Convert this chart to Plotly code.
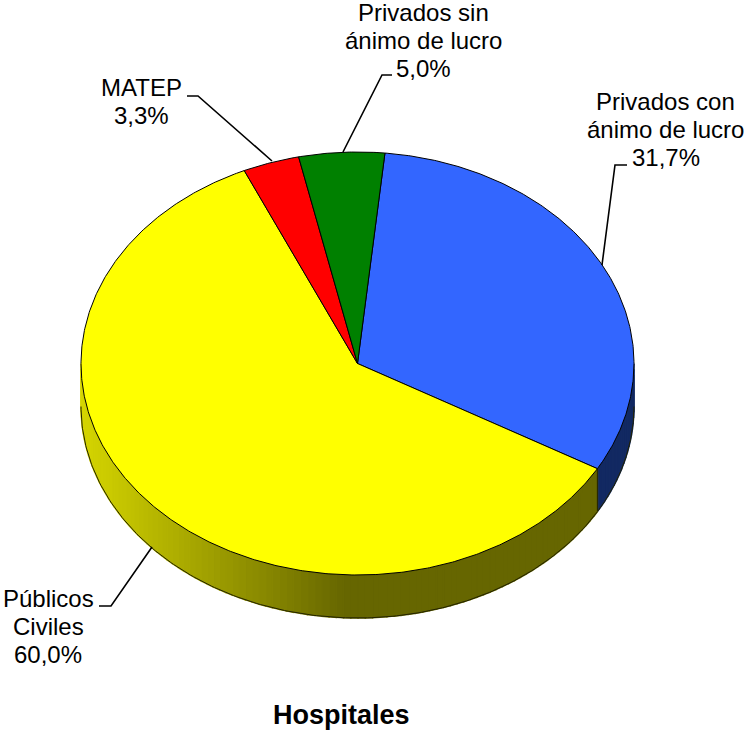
import numpy as np
import plotly.graph_objects as go

categories = ["Privados con ánimo de lucro", "Públicos Civiles", "MATEP", "Privados sin ánimo de lucro"]
values = [31.7, 60.0, 3.3, 5.0]
colors = ["#3366FF", "#FFFF00", "#FF0000", "#008000"]
side_colors = [(18, 41, 98), (255, 255, 0), (102, 0, 0), (0, 50, 0)]
label_lines = [["Privados con", "ánimo de lucro", "31,7%"],
               ["Públicos", "Civiles", "60,0%"],
               ["MATEP", "3,3%"],
               ["Privados sin", "ánimo de lucro", "5,0%"]]
label_x = [665.5, 48, 141, 423]
label_y = [101.5, 598, 87, 12]
leaders = [[(627, 165), (615, 165), (602, 265)],
           [(99, 606), (111, 606), (152, 547)],
           [(187, 96), (198, 96), (272, 161)],
           [(392, 75), (382, 75), (343, 152)]]
title_text = "Hospitales"

CX, CY, RX, RY, DEPTH = 357.5, 363.5, 276.5, 211.5, 43
START = 5.7
FONT = "Liberation Sans, Arial, sans-serif"


def rim(a, dy=0):
    r = np.radians(a)
    return CX + RX * np.sin(r), CY - RY * np.cos(r) + dy


def shade(base, x):
    # light falls off from the left rim to the pie's centre, then stays flat
    t = min(max((x - 81) / (345 - 81), 0), 1)
    f = 0.84 + (0.40 - 0.84) * t
    return "rgb(%d,%d,%d)" % (base[0] * f, base[1] * f, base[2] * f)


fig = go.Figure()
edges = START + np.cumsum([0] + values) * 3.6

# side wall (visible part only, 90..270 degrees)
for i in range(len(values)):
    a0, a1 = max(edges[i], 90), min(edges[i + 1], 270)
    if a1 <= a0:
        continue
    n = max(2, int((a1 - a0) / 1.5))
    ang = np.linspace(a0, a1, n + 1)
    if i == 0:
        colseq = ["rgb(%d,%d,%d)" % side_colors[0]] * n
    else:
        colseq = [shade(side_colors[i], rim((p + q) / 2)[0]) for p, q in zip(ang[:-1], ang[1:])]
    for p, q, c in zip(ang[:-1], ang[1:], colseq):
        tx0, ty0 = rim(p)
        tx1, ty1 = rim(q)
        fig.add_trace(go.Scatter(
            x=[tx0, tx1, tx1, tx0, tx0], y=[ty0, ty1, ty1 + DEPTH, ty0 + DEPTH, ty0],
            mode="lines", fill="toself", fillcolor=c, line=dict(color=c, width=1.5),
            hoverinfo="skip", showlegend=False))
    # outline
    aa = np.linspace(a0, a1, 200)
    bx, by = rim(aa, DEPTH)
    fig.add_trace(go.Scatter(x=bx, y=by, mode="lines", line=dict(color="#222200", width=1),
                             hoverinfo="skip", showlegend=False))
    for e in (a0, a1):
        if 90 < e < 270:
            ex, ey = rim(e)
            fig.add_trace(go.Scatter(x=[ex, ex], y=[ey, ey + DEPTH], mode="lines",
                                     line=dict(color="#222200", width=1),
                                     hoverinfo="skip", showlegend=False))

# top face
for i, cat in enumerate(categories):
    aa = np.linspace(edges[i], edges[i + 1], max(3, int(values[i] * 8)))
    wx, wy = rim(aa)
    fig.add_trace(go.Scatter(
        x=np.concatenate([[CX], wx, [CX]]), y=np.concatenate([[CY], wy, [CY]]),
        mode="lines", fill="toself", fillcolor=colors[i], line=dict(color="#000000", width=1),
        name=cat, hoverinfo="skip", showlegend=False))

# leader lines
for pts in leaders:
    fig.add_trace(go.Scatter(x=[p[0] for p in pts], y=[p[1] for p in pts], mode="lines",
                             line=dict(color="#000000", width=1.6),
                             hoverinfo="skip", showlegend=False))

ann = []
for lines, lx, ly in zip(label_lines, label_x, label_y):
    for k, t in enumerate(lines):
        ann.append(dict(x=lx, y=ly + 28 * k, text=t, showarrow=False, xanchor="center",
                        yanchor="middle", font=dict(family=FONT, size=24, color="#000000")))
ann.append(dict(x=341, y=715, text="<b>%s</b>" % title_text, showarrow=False, xanchor="center",
                yanchor="middle", font=dict(family=FONT, size=27, color="#000000")))

fig.update_layout(
    width=747, height=732, margin=dict(l=0, r=0, t=0, b=0),
    paper_bgcolor="#FFFFFF", plot_bgcolor="#FFFFFF", showlegend=False, annotations=ann,
    xaxis=dict(range=[0, 747], visible=False, fixedrange=True),
    yaxis=dict(range=[732, 0], visible=False, fixedrange=True),
)
fig.write_html("out.html", config=dict(displayModeBar=False),
               post_script="document.body.style.margin='0';document.body.style.overflow='hidden';")
